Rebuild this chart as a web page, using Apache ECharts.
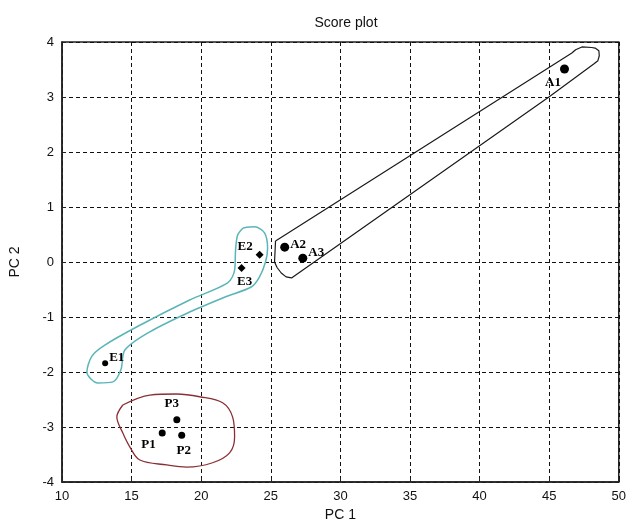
<!DOCTYPE html>
<html>
<head>
<meta charset="utf-8">
<script src="https://cdn.jsdelivr.net/npm/echarts@6/dist/echarts.min.js"></script>
<style>html,body{margin:0;padding:0;background:#fff}#c{width:629px;height:527px}</style>
</head>
<body>
<div id="c"></div>
<script>
// Score points
var aNames = ['A1', 'A2', 'A3'];
var aX = [46.1, 26.0, 27.3];
var aY = [3.51, 0.27, 0.07];
var eNames = ['E1', 'E2', 'E3'];
var eX = [13.1, 24.2, 22.9];
var eY = [-1.84, 0.13, -0.11];
var pNames = ['P1', 'P2', 'P3'];
var pX = [17.2, 18.6, 18.25];
var pY = [-3.11, -3.15, -2.87];

// Hand-drawn group outlines (data units)
var outlineA = [[25.34,0.38],[25.27,0.0],[25.45,-0.1],[25.75,-0.2],[26.1,-0.27],[26.49,-0.29],[44.98,3.0],[48.2,3.6],[48.5,3.66],[48.6,3.75],[48.57,3.84],[48.3,3.89],[48.06,3.9],[47.35,3.91],[46.9,3.86],[46.63,3.8],[25.34,0.38]];
var outlineE = [[23.01,0.62],[23.84,0.64],[24.55,0.53],[24.77,0.25],[24.62,0.0],[24.19,-0.27],[23.62,-0.45],[21.68,-0.64],[19.17,-0.91],[16.31,-1.27],[14.52,-1.6],[14.23,-1.96],[13.66,-2.18],[12.58,-2.2],[11.79,-2.0],[12.15,-1.71],[13.08,-1.51],[15.59,-1.15],[19.17,-0.69],[21.9,-0.38],[22.4,-0.15],[22.47,0.22],[22.62,0.49],[23.01,0.62]];
var outlineP = [[14.37,-2.6],[16.31,-2.42],[18.24,-2.4],[19.89,-2.45],[21.54,-2.56],[22.26,-2.82],[22.4,-3.18],[22.04,-3.47],[20.82,-3.65],[18.96,-3.73],[17.53,-3.69],[15.59,-3.6],[14.87,-3.36],[14.37,-3.11],[13.94,-2.82],[14.37,-2.6]];

// Axis ticks
var xTicks = [10, 15, 20, 25, 30, 35, 40, 45, 50];
var yTicks = [-4, -3, -2, -1, 0, 1, 2, 3, 4];

// Label placement (style, not data)
var labelPlace = {
  A1: {position: 'left', offset: [4, 14]},
  A2: {position: 'right', offset: [-2, -3]},
  A3: {position: 'right', offset: [-2, -6]},
  E1: {position: 'right', offset: [-2, -6]},
  E2: {position: 'left', offset: [0, -8]},
  E3: {position: 'bottom', offset: [3, 0]},
  P1: {position: 'left', offset: [0, 12]},
  P2: {position: 'bottom', offset: [2, 2]},
  P3: {position: 'top', offset: [-5, -3]}
};

function pts(names, xs, ys) {
  return names.map(function (n, i) {
    var lp = labelPlace[n];
    return {name: n, value: [xs[i], ys[i]], label: {show: true, formatter: n, position: lp.position, offset: lp.offset}};
  });
}

var labelStyle = {fontFamily: 'Liberation Serif', fontWeight: 'bold', fontSize: 13, color: '#000', distance: 3};
var dotStyle = {color: '#000', opacity: 1};

var chart = echarts.init(document.getElementById('c'), null, {renderer: 'canvas'});
chart.setOption({
  animation: false,
  backgroundColor: '#fff',
  title: {
    text: 'Score plot', left: 341, top: 11, textAlign: 'center',
    textStyle: {fontFamily: 'Liberation Sans', fontWeight: 'normal', fontSize: 14, color: '#111'}
  },
  grid: {left: 62, right: 9, top: 42, bottom: 44, show: true, borderColor: '#222', borderWidth: 1.5, backgroundColor: 'transparent'},
  xAxis: {
    type: 'value', min: xTicks[0], max: xTicks[xTicks.length - 1], interval: 5,
    name: 'PC 1', nameLocation: 'middle', nameGap: 26,
    nameTextStyle: {fontFamily: 'Liberation Sans', fontSize: 14, color: '#111'},
    axisLine: {show: true, onZero: false, lineStyle: {color: '#222', width: 1.5}},
    axisTick: {show: true, inside: true, length: 4, lineStyle: {color: '#222'}},
    axisLabel: {fontFamily: 'Liberation Sans', fontSize: 13, color: '#111', margin: 8},
    splitLine: {show: true, lineStyle: {color: '#111', type: [4, 3], width: 1}}
  },
  yAxis: {
    type: 'value', min: yTicks[0], max: yTicks[yTicks.length - 1], interval: 1,
    name: 'PC 2', nameLocation: 'middle', nameGap: 40,
    nameTextStyle: {fontFamily: 'Liberation Sans', fontSize: 14, color: '#111'},
    axisLine: {show: true, onZero: false, lineStyle: {color: '#222', width: 1.5}},
    axisTick: {show: true, inside: true, length: 4, lineStyle: {color: '#222'}},
    axisLabel: {fontFamily: 'Liberation Sans', fontSize: 13, color: '#111', margin: 8},
    splitLine: {show: true, lineStyle: {color: '#111', type: [4, 3], width: 1}}
  },
  series: [
    {type: 'line', data: outlineA, smooth: false, symbol: 'none', lineStyle: {color: '#1a1a1a', width: 1.2}, z: 3, silent: true},
    {type: 'line', data: outlineE, smooth: 0.3, symbol: 'none', lineStyle: {color: '#5bb5b8', width: 1.5}, z: 3, silent: true},
    {type: 'line', data: outlineP, smooth: 0.35, symbol: 'none', lineStyle: {color: '#8a2f33', width: 1.3}, z: 3, silent: true},
    {type: 'scatter', data: pts(aNames, aX, aY), symbol: 'circle', symbolSize: 9, itemStyle: dotStyle, label: labelStyle, z: 5},
    {type: 'scatter', data: pts(eNames, eX, eY).map(function (d, i) { d.symbol = i === 0 ? 'circle' : 'diamond'; d.symbolSize = i === 0 ? 6 : 8; return d; }), itemStyle: dotStyle, label: labelStyle, z: 5},
    {type: 'scatter', data: pts(pNames, pX, pY), symbol: 'circle', symbolSize: 7, itemStyle: dotStyle, label: labelStyle, z: 5}
  ]
});
</script>
</body>
</html>
